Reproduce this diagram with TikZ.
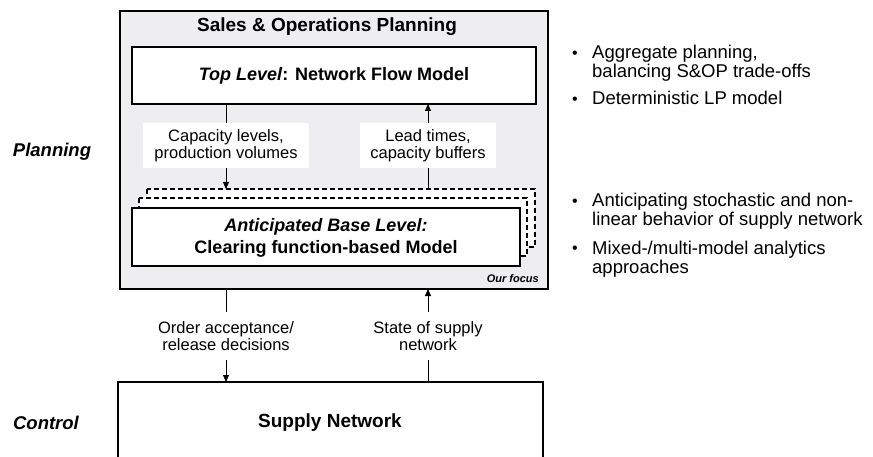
\documentclass[tikz,border=0pt]{standalone}
\usepackage{fontspec}
\setmainfont{Liberation Sans}
\usetikzlibrary{arrows.meta}
\definecolor{panelgray}{HTML}{EEEEF0}
\tikzset{
  x=1pt, y=-1pt,
  frame/.style={draw=black, line width=1.8pt},
  modelbox/.style={draw=black, fill=white, line width=1.6pt},
  ghostbox/.style={draw=black, fill=white, line width=1.4pt, dash pattern=on 5pt off 3pt},
  flow/.style={draw=black, line width=0.9pt, -{Triangle[length=7pt,width=6pt]}},
  plainflow/.style={draw=black, line width=0.9pt},
  tag/.style={fill=white, inner sep=0pt, align=center, font=\fontsize{16.5}{17}\selectfont},
  boxtext/.style={align=center, font=\fontsize{18}{22}\selectfont\bfseries},
  side/.style={font=\fontsize{18.5}{20}\selectfont\bfseries\itshape},
  bullettext/.style={anchor=base west, align=left, inner sep=0pt, font=\fontsize{18.5}{19}\selectfont},
  dot/.style={anchor=base, inner sep=0pt, font=\fontsize{16}{19}\selectfont},
}
\begin{document}
\begin{tikzpicture}
\useasboundingbox[fill=white] (0,0) rectangle (873,457);
\clip (0,0) rectangle (873,457);

% Sales & Operations Planning panel
\draw[frame, fill=panelgray] (120,11) rectangle (548,289);
\node[boxtext, font=\fontsize{19}{22}\selectfont\bfseries] (title) at (327,27) {Sales \& Operations Planning};

% top level model
\draw[modelbox] (132,47) rectangle (536,104);
\node[boxtext] (top) at (334,75.5) {\textit{Top Level}: Network Flow Model};
\coordinate (topL) at (226,104);
\coordinate (topR) at (428,104);

% stacked base-level models
\draw[ghostbox] (147,189) rectangle (535,247);
\draw[ghostbox] (139,198) rectangle (527,256);
\draw[modelbox] (132,208) rectangle (520,266);
\node[boxtext] (base) at (326,238) {\textit{Anticipated Base Level:}\\Clearing function-based Model};
\coordinate (baseL) at (226,189);
\coordinate (baseR) at (428,189);
\node[anchor=base east, inner sep=0pt, font=\fontsize{11}{12}\selectfont\bfseries\itshape] (focus) at (539,283) {Our focus};

% flows between the two planning levels
\node[tag, minimum width=166pt, minimum height=45pt] (capLbl) at (226,145.5) {Capacity levels,\\production volumes};
\node[tag, minimum width=136pt, minimum height=45pt] (leadLbl) at (428,145.5) {Lead times,\\capacity buffers};
\draw[plainflow] (topL) -- (capLbl.north);
\draw[flow] (capLbl.south) -- (baseL);
\draw[plainflow] (baseR) -- (leadLbl.south);
\draw[flow] (leadLbl.north) -- (topR);

% supply network
\draw[modelbox] (118,470) -- (118,382) -- (543,382) -- (543,470);
\node[boxtext, font=\fontsize{19}{22}\selectfont\bfseries] (sn) at (330,423) {Supply Network};
\coordinate (snL) at (226,382);
\coordinate (snR) at (428,382);
\coordinate (sopL) at (226,289);
\coordinate (sopR) at (428,289);

% flows between planning and control
\node[tag, minimum width=150pt, minimum height=48pt] (orderLbl) at (226,336) {Order acceptance/\\release decisions};
\node[tag, minimum width=130pt, minimum height=48pt] (stateLbl) at (428,336) {State of supply\\network};
\draw[plainflow] (sopL) -- (orderLbl.north);
\draw[flow] (orderLbl.south) -- (snL);
\draw[plainflow] (snR) -- (stateLbl.south);
\draw[flow] (stateLbl.north) -- (sopR);

% level captions
\node[side] (planning) at (52,152) {Planning};
\node[side] (control) at (46,423) {Control};

% notes (multi-line nodes are placed by the baseline of their last line)
\node[dot] (d1) at (575,59) {•};
\node[bullettext] (n1) at (592,78) {Aggregate planning,\\balancing S\&OP trade-offs};
\node[dot] (d2) at (575,105) {•};
\node[bullettext] (n2) at (592,105) {Deterministic LP model};
\node[dot] (d3) at (575,207) {•};
\node[bullettext] (n3) at (592,226) {Anticipating stochastic and non-\\linear behavior of supply network};
\node[dot] (d4) at (575,254) {•};
\node[bullettext] (n4) at (592,273) {Mixed-/multi-model analytics\\approaches};
\end{tikzpicture}
\end{document}
